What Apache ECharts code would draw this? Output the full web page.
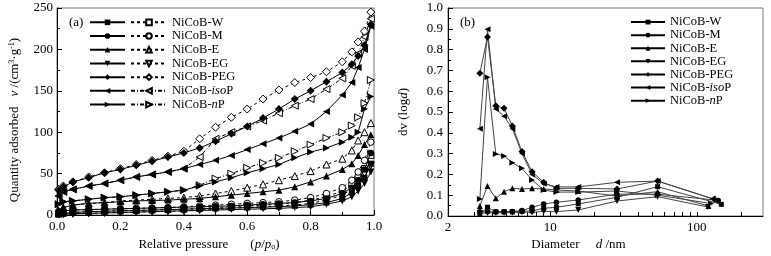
<!DOCTYPE html>
<html>
<head>
<meta charset="utf-8">
<script src="https://cdn.jsdelivr.net/npm/echarts@6/dist/echarts.min.js"></script>
<style>
html, body { margin: 0; padding: 0; background: #fff; }
#chart { width: 771px; height: 256px; }
</style>
</head>
<body>
<div id="chart"></div>
<script>
// (a) N2 isotherms, relative pressure grid
var pressure = [0.005, 0.02, 0.05, 0.1, 0.15, 0.2, 0.25, 0.3, 0.35, 0.4, 0.45, 0.5, 0.55, 0.6, 0.65, 0.7, 0.75, 0.8, 0.85, 0.9, 0.93, 0.95, 0.97, 0.99];

var adsW    = [1, 2, 3, 4, 4.5, 5, 5.5, 6, 6.5, 7, 7.5, 8, 8.5, 9, 9.5, 10, 11, 12.5, 15, 20, 27, 35, 45, 62];
var desW    = [1, 2, 3, 4, 4.5, 5, 5.5, 6, 6.5, 7, 8, 9, 10, 11, 12, 13, 15, 18, 22, 29, 36, 45, 56, 72];
var adsM    = [4, 5, 6, 6.5, 7, 7.5, 8, 8.5, 9, 9.5, 10, 10.5, 11, 12, 13, 14, 15, 17, 20, 26, 33, 42, 55, 75];
var desM    = [4, 5, 6, 6.5, 7, 7.5, 8, 8.5, 9, 10, 11, 12, 13, 14, 15, 16, 18, 21, 26, 33, 42, 52, 66, 88];
var adsE    = [5, 9, 12, 14, 15, 16, 17, 17.5, 18, 19, 20, 22, 24, 26, 28, 30, 34, 40, 47, 55, 62, 72, 85, 97];
var desE    = [5, 9, 12, 14, 15, 17, 18, 19, 20, 21, 23, 26, 29, 33, 37, 42, 47, 53, 61, 68, 78, 90, 100, 111];
var adsEG   = [0.5, 1, 1.5, 2, 2.5, 3, 3.5, 4, 4.5, 5, 5.5, 6, 6.5, 7, 7.5, 8, 9, 10, 13, 17, 22, 29, 38, 52];
var desEG   = [0.5, 1, 1.5, 2, 2.5, 3, 3.5, 4, 4.5, 5, 6, 7, 8, 9, 10, 11, 12, 14, 18, 24, 31, 40, 50, 60];
var adsPEG  = [30, 34, 40, 45, 51, 55, 60, 65, 70, 75, 81, 89, 98, 107, 117, 128, 140, 150, 161, 172, 182, 192, 205, 230];
var desPEG  = [31, 35, 40, 46, 51, 56, 61, 66, 71, 77, 92, 106, 118, 128, 140, 151, 160, 166, 173, 185, 197, 209, 222, 245];
var adsIsoP = [23, 28, 31, 35, 38, 42, 46, 49, 52, 56, 61, 66, 72, 79, 86, 93, 101, 110, 125, 145, 160, 178, 200, 228];
var desIsoP = [23, 28, 31, 35, 38, 42, 46, 49, 52, 56, 70, 92, 100, 107, 114, 123, 132, 140, 152, 165, 180, 195, 215, 237];
var adsNP   = [13, 16, 17, 19, 21, 22, 24, 26, 28, 30, 35, 40, 45, 51, 56, 61, 69, 76, 81, 88, 94, 100, 128, 143];
var desNP   = [13, 16, 17, 19, 21, 22, 24, 26, 28, 30, 36, 44, 50, 57, 63, 69, 77, 85, 93, 100, 108, 118, 135, 163];

// (b) pore size distribution, pore diameter in nm
var diameter = [3.3, 3.72, 4.24, 4.83, 5.5, 6.4, 7.5, 9.0, 11, 15.5, 28.5, 54];
var lastDiameter = [147, 140, 120, 119, 132, 128, 125];
var psdW    = [0.01, 0.042, 0.02, 0.02, 0.02, 0.022, 0.025, 0.037, 0.042, 0.058, 0.09, 0.141, 0.056];
var psdM    = [0.02, 0.021, 0.02, 0.021, 0.022, 0.026, 0.042, 0.058, 0.066, 0.077, 0.105, 0.105, 0.075];
var psdE    = [0.048, 0.144, 0.085, 0.117, 0.133, 0.13, 0.133, 0.13, 0.125, 0.12, 0.096, 0.117, 0.048];
var psdEG   = [0.013, 0.015, 0.015, 0.016, 0.017, 0.018, 0.018, 0.022, 0.021, 0.029, 0.072, 0.093, 0.043];
var psdPEG  = [0.686, 0.86, 0.53, 0.518, 0.433, 0.31, 0.213, 0.162, 0.133, 0.133, 0.13, 0.168, 0.08];
var psdIsoP = [0.42, 0.898, 0.515, 0.48, 0.42, 0.3, 0.2, 0.155, 0.14, 0.14, 0.162, 0.168, 0.083];
var psdNP   = [0.082, 0.667, 0.298, 0.289, 0.256, 0.229, 0.173, 0.125, 0.115, 0.115, 0.12, 0.1, 0.06];

// tick labels
var diameterTicks = [2, 3, 4, 5, 6, 7, 8, 9, 10, 20, 30, 40, 50, 60, 70, 80, 90, 100, 200];
var diameterLabels = [2, 10, 100];

var samples = ['W', 'M', 'E', 'EG', 'PEG', 'isoP', 'nP'];
var adsData = [adsW, adsM, adsE, adsEG, adsPEG, adsIsoP, adsNP];
var desData = [desW, desM, desE, desEG, desPEG, desIsoP, desNP];
var psdData = [psdW, psdM, psdE, psdEG, psdPEG, psdIsoP, psdNP];

var symbols = ['rect', 'circle', 'triangle', 'triangle', 'diamond', 'triangle', 'triangle'];
var rotates = [0, 0, 0, 180, 0, 90, -90];
var sizes = [6, 6.5, 7, 7, 8, 7, 7];

var FONT = 'Liberation Serif';

function pairs(xs, ys) {
	return xs.map(function(x, i) { return [x, ys[i]]; });
}

function legendLabel(name) {
	var s = name.split('-')[1];
	if (s === 'isoP') return 'NiCoB-{i|iso}P';
	if (s === 'nP') return 'NiCoB-{i|n}P';
	return 'NiCoB-' + s;
}

var series = [];
samples.forEach(function(s, i) {
	series.push({
		name: 'ads-' + s, type: 'line', xAxisIndex: 0, yAxisIndex: 0,
		data: pairs(pressure, adsData[i]),
		symbol: symbols[i], symbolSize: sizes[i], symbolRotate: rotates[i],
		showAllSymbol: true,
		itemStyle: { color: '#000' },
		lineStyle: { color: '#000', width: 1 },
		z: 3
	});
	series.push({
		name: 'des-' + s, type: 'line', xAxisIndex: 0, yAxisIndex: 0,
		data: pairs(pressure, desData[i]),
		symbol: symbols[i], symbolSize: sizes[i], symbolRotate: rotates[i],
		showAllSymbol: true,
		itemStyle: { color: '#fff', borderColor: '#000', borderWidth: 1 },
		lineStyle: { color: '#000', width: 1, type: i >= 5 ? [4, 2, 1, 2] : [3, 3] },
		z: 2
	});
	series.push({
		name: 'psd-' + s, type: 'line', xAxisIndex: 1, yAxisIndex: 1,
		data: pairs(diameter.concat([lastDiameter[i]]), psdData[i]),
		symbol: symbols[i], symbolSize: sizes[i] - 1, symbolRotate: rotates[i],
		showAllSymbol: true,
		itemStyle: { color: '#000' },
		lineStyle: { color: '#444', width: 1 }
	});
});

var tickText = { fontFamily: FONT, fontSize: 13, color: '#000' };
var nameRich = {
	t: { fontFamily: FONT, fontSize: 13, color: '#000' },
	i: { fontFamily: FONT, fontSize: 13, color: '#000', fontStyle: 'italic' },
	sup: { fontFamily: FONT, fontSize: 8, color: '#000', verticalAlign: 'top' },
	sub: { fontFamily: FONT, fontSize: 8, color: '#000', verticalAlign: 'bottom' },
	g1: { width: 22 },
	g2: { width: 16 },
	g3: { width: 10 },
	pad1: { width: 13 },
	pad2: { width: 54 },
	pad3: { width: 17 }
};
var legendText = {
	fontFamily: FONT, fontSize: 12.5, color: '#000', lineHeight: 13.7,
	rich: { i: { fontFamily: FONT, fontSize: 12.5, fontStyle: 'italic', color: '#000' } }
};

function baseAxis(extra) {
	var o = {
		axisLine: { show: true, lineStyle: { color: '#000', width: 1 } },
		axisTick: { inside: true, length: 5, lineStyle: { color: '#000' } },
		minorTick: { show: true, splitNumber: 2, length: 3, lineStyle: { color: '#000' } },
		splitLine: { show: false },
		minorSplitLine: { show: false },
		axisLabel: Object.assign({ margin: 5 }, tickText),
		nameLocation: 'middle',
		nameMoveOverlap: false
	};
	return Object.assign(o, extra);
}

var option = {
	animation: false,
	backgroundColor: '#fff',
	title: [
		{ text: '(a)', left: 69, top: 16, padding: 0, textStyle: { fontFamily: FONT, fontSize: 13, fontWeight: 'normal', color: '#000' } },
		{ text: '(b)', left: 460, top: 16, padding: 0, textStyle: { fontFamily: FONT, fontSize: 13, fontWeight: 'normal', color: '#000' } }
	],
	legend: [
		{
			data: samples.map(function(s) { return 'ads-' + s; }),
			orient: 'vertical', left: 89, top: 15.5, padding: 0,
			itemWidth: 35, itemHeight: 7, itemGap: 0, selectedMode: false,
			formatter: function() { return ' '; },
			textStyle: legendText
		},
		{
			data: samples.map(function(s) { return 'des-' + s; }),
			orient: 'vertical', left: 130, top: 15.5, padding: 0,
			itemWidth: 36, itemHeight: 7, itemGap: 0, selectedMode: false,
			formatter: legendLabel,
			textStyle: legendText
		},
		{
			data: samples.map(function(s) { return 'psd-' + s; }),
			orient: 'vertical', left: 630, top: 15.5, padding: 0,
			itemWidth: 34, itemHeight: 6, itemGap: 0, selectedMode: false,
			formatter: legendLabel,
			lineStyle: { color: '#000' },
			textStyle: Object.assign({}, legendText, { lineHeight: 13.1 })
		}
	],
	grid: [
		{ left: 57, right: 397, top: 8, bottom: 41, show: true, borderColor: '#777', borderWidth: 1, containLabel: false, outerBoundsMode: 'none' },
		{ left: 448, right: 8, top: 8, bottom: 40, show: true, borderColor: '#777', borderWidth: 1, containLabel: false, outerBoundsMode: 'none' }
	],
	xAxis: [
		baseAxis({
			gridIndex: 0, type: 'value', min: 0, max: 1, interval: 0.2,
			axisLabel: Object.assign({ margin: 5, formatter: function(v) { return v.toFixed(1); } }, tickText),
			name: '{t|Relative pressure}{g1| }{t|(}{i|p}{t|/}{i|p}{sub|o}{t|)}{pad1| }',
			nameGap: 23,
			nameTextStyle: { rich: nameRich }
		}),
		baseAxis({
			gridIndex: 1, type: 'log', logBase: 10, min: 2, max: 283,
			axisTick: { inside: true, length: 4, lineStyle: { color: '#000' }, customValues: diameterTicks },
			minorTick: { show: false },
			axisLabel: Object.assign({ margin: 5, customValues: diameterLabels, formatter: function(v) { return String(Math.round(v)); } }, tickText),
			name: '{t|Diameter}{g2| }{i|d}{t| /nm}{pad2| }',
			nameGap: 22,
			nameTextStyle: { rich: nameRich }
		})
	],
	yAxis: [
		baseAxis({
			gridIndex: 0, type: 'value', min: 0, max: 250, interval: 50,
			axisLabel: Object.assign({ margin: 4 }, tickText),
			name: '{t|Quantity adsorbed}{g3| }{i|v}{t| /(cm}{sup|3}{t|·g}{sup|-1}{t|)}{pad3| }',
			nameGap: 36,
			nameTextStyle: { rich: nameRich }
		}),
		baseAxis({
			gridIndex: 1, type: 'value', min: 0, max: 1, interval: 0.1,
			axisLabel: Object.assign({ margin: 5, formatter: function(v) { return v.toFixed(1); } }, tickText),
			name: '{t|dv (log}{i|d}{t|)}',
			nameGap: 38,
			nameTextStyle: { rich: nameRich }
		})
	],
	series: series
};

var chart = echarts.init(document.getElementById('chart'));
chart.setOption(option, true);
</script>
</body>
</html>
